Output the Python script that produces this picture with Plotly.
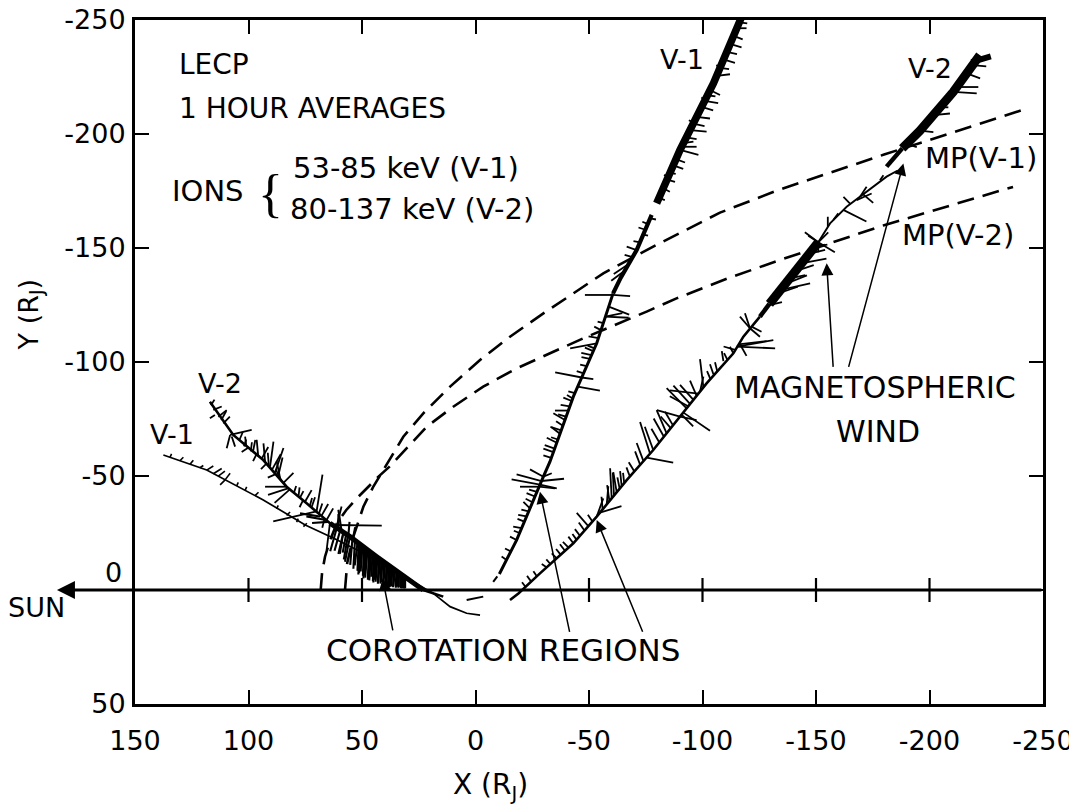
import plotly.graph_objects as go

FONT = "DejaVu Sans"

# ---------------- axes ----------------
X_TICKS = [150, 100, 50, 0, -50, -100, -150, -200, -250]
X_TICK_TEXT = ["150", "100", "50", "0", "-50", "-100", "-150", "-200", "-250"]
Y_TICKS = [-250, -200, -150, -100, -50, 0, 50]
Y_TICK_TEXT = ["-250", "-200", "-150", "-100", "-50", "", "50"]
CENTER_TICKS = [100, 50, -50, -100, -150, -200]

# ---------------- magnetopause boundaries (dashed) ----------------
MP_V1_X = [57.5, 56.5, 53.8, 49.4, 45.2, 40.6, 36.0, 31.8, 23.0, 11.2, -2.0, -15.2, -29.9,
           -43.1, -56.3, -80.0, -107.7, -132.8, -180.0, -243.4]
MP_V1_Y = [0.0, -12.0, -23.4, -36.5, -45.0, -52.6, -60.2, -67.2, -77.5, -89.2, -100.9, -111.1, -121.3,
           -130.1, -138.9, -151.5, -165.5, -175.2, -191.0, -211.3]
MP_V2_X = [68.2, 67.6, 66.3, 64.0, 61.1, 57.0, 52.0, 47.0, 43.0, 38.0, 31.8, 21.5, 9.8, -3.4,
           -18.1, -34.3, -47.5, -75.4, -88.8, -112.0, -134.0, -180.0, -236.8]
MP_V2_Y = [0.0, -7.5, -14.6, -22.0, -29.2, -35.0, -40.5, -45.5, -49.5, -54.0, -60.7, -71.6, -80.4, -89.2,
           -97.2, -104.5, -110.4, -122.1, -128.0, -137.0, -144.7, -160.0, -176.8]

# ---------------- trajectories ----------------
V1_IN_X = [137.5, 118.4, 93.5, 75.0, 62.0, 48.0, 34.7, 28.8, 18.6, 11.2, 3.9, -2.0]
V1_IN_Y = [-59.2, -52.6, -39.5, -28.5, -22.5, -15.5, -7.3, -4.4, 1.5, 7.3, 10.2, 11.0]
V2_IN_X = [117.0, 106.7, 93.5, 83.2, 74.4, 64.1, 55.3, 43.5, 31.8, 23.0, 14.2]
V2_IN_Y = [-82.6, -68.0, -57.0, -45.3, -38.0, -29.3, -23.4, -14.6, -5.9, 0.0, 2.9]
COROT_X = [64.1, 55.3, 43.5, 31.8, 23.0]
COROT_Y = [-29.3, -23.4, -14.6, -5.9, 0.0]
V1_FRAG_X = [3.9, -3.4, None, -7.8, -9.6]
V1_FRAG_Y = [4.4, 2.9, None, -3.6, -6.0]
V1_OUT_LO_X = [-10.5, -13.0, -18.1, -29.9, -32.8, -43.1, -53.4, -60.6]
V1_OUT_LO_Y = [-7.0, -11.7, -21.9, -49.7, -56.3, -84.8, -108.2, -130.1]
V1_OUT_MID_X = [-60.6, -64.0, -71.0, -77.6]
V1_OUT_MID_Y = [-130.1, -137.0, -149.1, -164.5]
V1_OUT_HI_X = [-79.8, -90.1, -104.8, -117.5]
V1_OUT_HI_Y = [-169.6, -193.0, -222.2, -252.0]
V2_OUT_X = [-15.2, -18.9, -28.4, -43.1, -53.4, -66.6, -78.3, -90.1, -101.8, -113.6, -118.0, -125.3]
V2_OUT_Y = [4.4, 1.5, -7.3, -20.5, -32.2, -48.2, -61.4, -76.0, -90.6, -103.8, -111.1, -119.9]
V2_OUT_MID_X = [-125.3, -129.5, -138.0, -146.0, -151.0]
V2_OUT_MID_Y = [-119.9, -125.5, -136.6, -147.2, -152.5]
V2_OUT_DOT_X = [-151.0, -156.2, -163.5, -169.4, -175.3, -181.1, -186.0]
V2_OUT_DOT_Y = [-152.5, -160.8, -168.1, -172.5, -176.9, -181.3, -184.0]
V2_OUT_HI_X = [-181.1, -188.0, -195.8, -210.5, -222.2]
V2_OUT_HI_Y = [-185.7, -193.7, -201.5, -218.5, -234.6]
V2_OUT_TIP_X = [-218.5, -227.0]
V2_OUT_TIP_Y = [-231.5, -234.0]

# ---------------- hourly anisotropy vectors: (x, y, dx, dy) ----------------
V1_IN_SPIKES = [
    (134.6, -58.2, -0.7, -1.5), (130.2, -56.7, -1.5, -1.5), (125.8, -55.1, -1.5, -1.8),
    (121.4, -53.6, -1.5, -1.0), (118.4, -52.6, -2.9, -1.8), (115.5, -51.0, -3.7, -2.3),
    (113.3, -49.9, -2.9, -2.2), (110.3, -48.3, -2.2, -2.9), (110.3, -48.3, 2.2, 2.2),
    (105.2, -45.7, -0.7, -1.5), (101.5, -43.7, -0.7, -1.5), (97.1, -41.4, -1.5, -1.5),
    (87.6, -35.6, -0.7, -1.5), (83.2, -32.7, -1.5, -1.5), (78.8, -29.8, -0.7, -1.5),
    (75.8, -27.8, -1.5, -1.5),
]
V2_IN_SPIKES = [
    (116.5, -81.0, -1.5, -2.5), (115.5, -79.0, -3.7, -1.5), (114.8, -76.8, 2.2, 1.5),
    (113.3, -76.0, -3.7, -2.9), (112.0, -74.5, -2.2, -4.0), (111.1, -73.1, -2.9, -2.9),
    (108.1, -68.0, -9.5, -2.2), (108.1, -68.0, 1.5, 5.8), (107.4, -67.3, -1.5, 4.4),
    (104.0, -65.8, -1.5, -3.5), (102.0, -63.0, -1.0, -3.0), (101.0, -63.3, 0.5, -4.0),
    (100.0, -62.5, 3.0, 2.0), (99.0, -60.8, -0.5, -4.0), (98.0, -60.8, -1.0, -5.0),
    (96.5, -59.5, 1.5, 3.0),
    (95.7, -58.6, 0.7, -7.3), (94.2, -57.6, -2.9, -5.1), (92.7, -56.3, 0.7, -8.0),
    (92.0, -55.5, 2.5, 2.5), (91.0, -54.2, 0.5, -6.0),
    (90.5, -54.1, -1.5, -11.0), (89.5, -53.0, -3.7, -6.6), (88.3, -51.6, -3.7, -10.7),
    (88.0, -50.8, 3.5, 1.5), (87.0, -49.6, -2.0, -8.5),
    (86.1, -49.2, 1.5, -7.3), (85.5, -47.9, 2.5, -5.0), (84.6, -47.0, -4.4, -4.4),
    (83.2, -45.3, 9.5, 0.0), (82.6, -44.6, 8.8, 2.9), (81.9, -44.0, 6.6, 5.8),
    (80.0, -42.6, -1.0, -3.0), (78.0, -41.0, -0.5, -4.0), (76.0, -39.3, 1.5, 3.0),
    (77.3, -40.5, -1.5, -2.9), (75.1, -38.7, -2.9, -5.1), (73.0, -36.8, -1.0, -3.5),
    (72.2, -36.3, -1.5, -4.4),
    (70.0, -34.5, -2.6, -16.1), (70.0, -34.5, 19.1, 4.4), (69.0, -33.4, -1.5, -4.5),
    (67.8, -32.6, -2.9, -5.1), (66.5, -31.3, 1.0, 4.0), (65.6, -30.7, -2.9, -5.1),
    (62.6, -28.5, -21.3, 0.3), (61.2, -27.8, -2.2, -8.8),
    (64.1, -29.3, 1.5, 11.7), (58.2, -25.3, 1.5, 9.5),
]
COROT_SPIKES = [
    (61.1, -27.2, 2.9, 10.2), (59.6, -26.2, 2.5, 9.0), (58.2, -25.3, 2.2, 9.5),
    (57.0, -24.4, 1.5, 8.0), (56.2, -23.9, 1.8, 10.5),
    (55.3, -23.4, 2.2, 11.0), (54.2, -22.5, 1.0, 11.5), (53.1, -21.7, 0.7, 12.4),
    (52.0, -20.8, 1.2, 10.0), (51.5, -20.4, 0.5, 12.0),
    (50.9, -20.0, 0.7, 13.2), (50.3, -19.5, 1.0, 12.0), (49.8, -19.1, 0.8, 11.0),
    (49.2, -18.7, 0.4, 12.5), (48.7, -18.3, 0.7, 13.2), (48.1, -17.8, 0.9, 11.5),
    (47.6, -17.4, 1.0, 12.0), (47.0, -17.0, 0.4, 12.5), (46.5, -16.6, 0.7, 11.0),
    (46.0, -16.2, 0.8, 12.0), (45.4, -15.8, 0.5, 10.0), (44.9, -15.4, 0.3, 11.5),
    (44.3, -15.0, 0.7, 11.7), (43.8, -14.5, 0.6, 10.0), (43.2, -14.1, 0.8, 10.5),
    (42.7, -13.7, 0.3, 11.0), (42.1, -13.2, 0.7, 9.5), (41.5, -12.8, 0.4, 10.0),
    (41.0, -12.4, 0.6, 9.0), (40.4, -12.0, 0.3, 10.0), (39.9, -11.6, 0.7, 9.5),
    (39.3, -11.2, 0.2, 9.5), (38.8, -10.8, 0.5, 9.0), (38.2, -10.4, 0.4, 9.0),
    (37.7, -10.0, 0.3, 8.8), (37.1, -9.5, 0.5, 8.0), (36.6, -9.1, 0.5, 7.5),
    (36.0, -8.7, 0.3, 7.5), (35.5, -8.3, 0.7, 6.6), (34.9, -7.8, 0.2, 6.8),
    (34.3, -7.4, 0.3, 6.0), (33.7, -7.0, 0.3, 6.0), (33.2, -6.6, 0.0, 5.4),
    (32.6, -6.2, 0.2, 5.4), (32.1, -5.8, 0.2, 5.0), (31.5, -5.5, 0.1, 4.8),
    (31.0, -5.1, 0.0, 4.4),
    (58.9, -25.0, 1.5, -10.2), (60.4, -26.3, 0.0, -7.0), (56.0, -23.9, -0.5, -6.0),
    (54.0, -22.5, -1.0, -5.0), (66.5, -30.8, 8.0, -1.5), (65.0, -29.9, 7.0, 0.5),
    (68.5, -32.2, 8.8, -1.4),
]
V1_OUT_SPIKES = [
    (-13.7, -13.2, 2.2, -1.5), (-15.9, -16.7, 2.9, -1.5), (-18.1, -21.9, 2.9, -1.5),
    (-19.4, -25.0, 2.5, -1.0), (-20.3, -27.1, 3.7, -0.7), (-21.5, -30.0, 3.0, -1.2),
    (-22.5, -32.3, 3.7, -0.7), (-23.4, -34.5, 3.2, -0.8), (-24.0, -35.8, 2.9, -2.9),
    (-25.1, -38.5, 3.0, -1.5), (-26.2, -41.0, 3.7, -1.5), (-27.1, -43.0, 3.5, -1.0),
    (-28.4, -46.2, 12.5, -2.3), (-28.4, -46.2, -7.4, 1.6), (-29.1, -47.8, 11.0, -2.9),
    (-29.1, -47.8, -9.9, -1.0), (-29.9, -49.7, 5.9, -3.2), (-29.9, -49.7, -3.7, -1.5),
    (-28.0, -45.3, 8.4, 0.0), (-28.0, -45.3, -7.0, 0.7),
    (-33.4, -58.0, 3.5, -1.0), (-34.3, -60.5, 4.4, -1.5), (-34.9, -62.0, 4.4, -1.5),
    (-35.8, -64.6, 4.4, -2.2), (-36.3, -66.0, 3.0, -1.0), (-37.2, -68.5, 3.7, -2.9),
    (-37.8, -70.0, 4.8, -1.5), (-38.5, -72.0, 3.0, -2.0), (-39.4, -74.6, 5.1, -2.9),
    (-39.9, -76.0, 3.5, -1.0), (-40.9, -78.7, 5.9, 0.0), (-41.5, -80.5, 4.0, -0.7),
    (-42.4, -82.9, 3.7, -1.5), (-42.8, -84.0, 2.5, -1.5),
    (-43.8, -86.4, 2.9, -0.7), (-45.0, -89.2, -9.8, 1.8), (-46.8, -93.2, 11.7, -2.2),
    (-46.8, -93.2, -5.1, 0.7), (-47.6, -95.0, 3.0, -1.0),
    (-49.0, -98.2, 2.9, -0.7), (-50.4, -101.4, 3.7, -0.7), (-51.1, -103.0, 4.5, -1.0),
    (-51.9, -104.8, 3.7, -1.5), (-52.4, -106.0, 3.0, -1.2), (-53.4, -108.2, 11.7, 2.2),
    (-54.2, -110.5, 4.4, -0.7), (-55.3, -114.0, 3.0, -1.5), (-56.3, -117.0, 2.5, -0.7),
    (-57.2, -119.9, -10.3, 0.5), (-57.2, -119.9, -7.5, -1.5), (-58.7, -124.3, -9.0, 3.5),
    (-60.4, -129.4, 12.2, 0.0), (-60.4, -129.4, -7.7, 0.5),
    (-65.7, -140.0, 5.9, 4.4), (-67.5, -143.0, 6.6, 4.4), (-69.2, -146.0, 3.5, -1.0),
    (-71.0, -149.1, 4.4, -1.5), (-72.5, -152.5, 2.9, -0.5), (-74.0, -155.9, -2.0, 0.5),
    (-74.8, -158.0, 3.0, -1.0), (-76.0, -160.5, 2.5, -1.0), (-77.0, -163.0, -2.5, 0.5),
    (-80.9, -172.0, -2.5, 1.0), (-82.7, -176.2, -2.9, 1.5), (-84.4, -180.0, -3.5, 1.0),
    (-85.0, -181.5, 2.0, -0.5), (-85.7, -183.0, -2.5, 0.5), (-87.1, -186.2, -4.4, 1.5),
    (-88.3, -189.0, -4.0, 1.5), (-90.1, -193.0, -8.1, 2.2), (-90.8, -194.4, -6.6, 0.0),
    (-91.6, -196.0, -4.4, -0.7), (-92.9, -198.5, -4.5, 0.7), (-94.5, -201.7, -7.3, 0.7),
    (-95.9, -204.5, -5.0, 1.0), (-96.0, -205.0, 2.0, -1.0), (-97.4, -207.5, -5.9, 0.7),
    (-99.6, -211.9, -5.1, 1.5), (-100.9, -214.5, -6.0, 1.0), (-101.0, -215.0, 1.5, -1.0),
    (-102.2, -217.0, -3.5, 0.5), (-103.3, -219.3, -4.4, 2.2), (-106.2, -225.5, -5.9, -0.7),
    (-107.7, -229.0, -4.0, 0.5), (-108.0, -230.0, 2.0, 0.0), (-109.2, -232.7, -5.1, 1.5),
    (-110.7, -236.0, -4.5, 1.0), (-112.1, -239.5, -5.1, 1.5), (-113.7, -243.0, -4.0, 1.5),
    (-115.0, -246.4, -4.4, 0.0), (-116.2, -249.0, -3.5, 0.5),
]
V2_OUT_SPIKES = [
    (-22.0, -1.4, 1.5, -2.0), (-24.5, -3.7, 1.8, -2.5), (-27.0, -6.0, 1.5, -2.2),
    (-31.4, -9.9, 2.2, -1.5), (-33.0, -11.4, 1.8, -2.0), (-35.8, -13.9, 2.2, -2.2),
    (-37.5, -15.5, 2.0, -2.5), (-39.4, -17.2, 2.2, -2.9), (-41.0, -18.6, 2.5, -2.5),
    (-43.1, -20.5, 2.2, -2.9), (-44.5, -22.1, 1.8, -2.5), (-46.0, -23.8, 2.2, -2.9),
    (-48.0, -26.1, 2.5, -3.5), (-49.7, -28.0, 5.1, -5.8), (-51.5, -30.0, 2.0, -3.0),
    (-53.4, -32.2, -2.9, -8.0), (-54.8, -33.9, -9.5, -2.9), (-56.0, -35.4, 0.5, -5.5),
    (-57.8, -37.5, -0.7, -8.0), (-59.0, -39.0, 1.0, -7.0), (-60.0, -40.2, 0.7, -13.2),
    (-61.0, -41.4, 0.5, -10.0), (-62.2, -42.9, 1.5, -8.8), (-63.5, -44.4, 1.0, -5.0),
    (-64.4, -45.5, 0.7, -6.6), (-65.5, -46.9, 0.5, -4.5), (-68.0, -49.8, 1.5, -4.0),
    (-70.0, -52.0, 2.5, -4.0), (-72.5, -55.0, 2.2, -5.8), (-74.0, -56.5, 3.0, -8.0),
    (-76.9, -59.8, 4.4, -13.9), (-78.3, -61.4, 3.7, -10.2), (-75.4, -58.1, -11.7, 2.2),
    (-81.0, -64.7, 3.5, -6.0), (-83.0, -67.2, 4.5, -8.0), (-84.2, -68.7, 4.4, -10.2),
    (-86.0, -71.0, 4.4, -5.1), (-87.0, -72.2, 3.5, -6.0),
    (-90.1, -76.0, 10.2, -2.9), (-90.1, -76.0, -7.3, 1.5),
    (-91.6, -77.8, -11.7, 8.0), (-90.8, -76.9, -5.1, 5.1),
    (-93.0, -79.7, 8.8, -8.8), (-94.5, -81.6, 7.3, -8.0), (-96.0, -83.4, 5.9, -6.6),
    (-97.4, -85.2, 2.9, -6.6), (-98.9, -87.0, -1.5, -6.6), (-93.7, -80.6, 8.1, -4.4),
    (-98.2, -86.1, 12.5, -1.5), (-100.4, -88.9, 1.5, -12.4), (-103.5, -92.5, 1.5, -3.5),
    (-104.8, -94.6, 1.5, -4.4), (-106.5, -95.9, 1.0, -4.0), (-109.2, -100.4, 0.7, -4.4),
    (-111.0, -100.9, 1.5, -3.0), (-113.6, -103.8, 1.5, -2.9),
    (-115.1, -106.7, -16.1, -2.9), (-115.1, -106.7, -16.9, 0.7), (-115.8, -107.7, -12.5, -1.5),
    (-114.4, -105.3, 5.1, -1.5), (-116.5, -107.8, -2.9, 5.1),
    (-120.9, -114.8, 4.4, -5.1), (-120.9, -114.8, -4.4, 3.7), (-120.9, -114.8, 2.2, -6.6),
    (-121.6, -115.5, -4.4, 2.2),
    (-129.0, -124.8, -6.0, -1.5), (-133.0, -130.0, -9.0, -3.0), (-134.1, -131.5, -13.3, -3.0),
    (-136.0, -134.0, -10.0, -4.0), (-138.0, -136.6, -7.3, -1.5), (-140.0, -139.5, -9.0, -3.0),
    (-142.9, -143.1, -11.7, -2.2), (-146.0, -147.2, -8.0, -2.0), (-149.0, -150.5, -6.0, -1.0),
    (-151.0, -152.5, 4.4, -2.9), (-151.0, -152.5, -7.3, 4.4), (-151.0, -152.5, -4.4, -4.4),
    (-151.0, -152.5, 0.0, 4.4), (-151.0, -152.5, 5.9, -4.4), (-151.0, -152.5, 2.9, 4.4),
    (-155.2, -159.3, 0.0, -4.4), (-157.6, -162.3, -2.2, -2.9), (-162.0, -166.7, -10.2, 5.1),
    (-165.0, -169.5, 2.9, -2.9), (-167.9, -171.0, -6.6, -2.9), (-169.4, -172.5, -2.9, -4.4),
    (-170.8, -173.5, -4.4, 3.7), (-178.2, -179.7, -1.5, -2.2),
    (-190.0, -195.7, -4.4, 1.5), (-195.8, -201.5, -5.9, 0.7), (-201.7, -208.3, -7.3, -0.7),
    (-204.6, -211.7, -3.7, 0.0), (-210.5, -218.5, -10.3, 0.7), (-212.0, -220.6, -9.5, 0.0),
    (-216.4, -226.6, -5.9, 2.2), (-219.0, -230.2, -6.0, 0.5), (-221.0, -233.0, -5.0, -0.5),
]

# ---------------- annotation arrows: (tail_x, tail_y, head_x, head_y) ----------------
POINTER_ARROWS = [
    (36.3, 18.4, 40.9, -5.1),
    (-41.6, 19.0, -28.4, -43.1),
    (-73.9, 19.0, -53.4, -30.7),
    (-157.6, -97.2, -154.7, -143.3),
    (-164.2, -97.2, -188.5, -187.1),
]

# ---------------- text labels: (text, x, y, size, anchor) ----------------
LABELS = [
    ("LECP", 131.5, -230.3, 28, "left"),
    ("1 HOUR AVERAGES", 131.5, -211.4, 28, "left"),
    ("IONS", 134.6, -175.0, 29, "left"),
    ("53-85 keV (V-1)", 81.3, -185.1, 29, "left"),
    ("80-137 keV (V-2)", 82.6, -167.1, 29, "left"),
    ("V-1", -90.8, -232.5, 27, "center"),
    ("V-2", -200.2, -228.9, 27, "center"),
    ("MP(V-1)", -197.1, -189.5, 29, "left"),
    ("MP(V-2)", -187.0, -155.7, 29, "left"),
    ("MAGNETOSPHERIC", -176.2, -88.6, 30, "center"),
    ("WIND", -177.1, -69.7, 30, "center"),
    ("V-2", 112.6, -90.4, 27, "center"),
    ("V-1", 133.7, -68.0, 27, "center"),
    ("COROTATION REGIONS", -12.3, 26.3, 31, "center"),
]

fig = go.Figure()


def add_line(xs, ys, width, dash=None):
    fig.add_trace(go.Scatter(
        x=xs, y=ys, mode="lines", hoverinfo="skip", showlegend=False,
        line=dict(color="black", width=width, dash=dash),
    ))


def add_spikes(spikes, width):
    xs, ys = [], []
    for x, y, dx, dy in spikes:
        xs += [x, x + dx, None]
        ys += [y, y + dy, None]
    add_line(xs, ys, width)


# magnetopause
DASH = "17px,9px"
add_line(MP_V1_X, MP_V1_Y, 2.6, DASH)
add_line(MP_V2_X, MP_V2_Y, 2.6, DASH)

# trajectories
add_line(V1_IN_X, V1_IN_Y, 1.7)
add_line(V2_IN_X, V2_IN_Y, 2.6)
add_line(COROT_X, COROT_Y, 5.0)
add_line(V1_FRAG_X, V1_FRAG_Y, 2.0)
add_line(V1_OUT_LO_X, V1_OUT_LO_Y, 3.0)
add_line(V1_OUT_MID_X, V1_OUT_MID_Y, 4.2)
add_line(V1_OUT_HI_X, V1_OUT_HI_Y, 7.5)
add_line(V2_OUT_X, V2_OUT_Y, 2.6)
add_line(V2_OUT_MID_X[:2], V2_OUT_MID_Y[:2], 4.5)
add_line(V2_OUT_MID_X[1:], V2_OUT_MID_Y[1:], 9.0)
add_line(V2_OUT_DOT_X, V2_OUT_DOT_Y, 1.9)
add_line(V2_OUT_HI_X[:2], V2_OUT_HI_Y[:2], 4.5)
add_line(V2_OUT_HI_X[1:], V2_OUT_HI_Y[1:], 9.0)
add_line(V2_OUT_TIP_X, V2_OUT_TIP_Y, 6.0)

# anisotropy vectors
add_spikes(V1_IN_SPIKES, 1.6)
add_spikes(V2_IN_SPIKES, 1.8)
add_spikes(COROT_SPIKES, 2.1)
add_spikes(V1_OUT_SPIKES, 1.8)
add_spikes(V2_OUT_SPIKES, 1.8)

annotations = []
for text, x, y, size, anchor in LABELS:
    annotations.append(dict(text=text, x=x, y=y, xref="x", yref="y", showarrow=False,
                            xanchor=anchor, yanchor="middle",
                            font=dict(family=FONT, size=size, color="black")))

for tx, ty, hx, hy in POINTER_ARROWS:
    annotations.append(dict(text="", x=hx, y=hy, ax=tx, ay=ty, xref="x", yref="y",
                            axref="x", ayref="y", showarrow=True, arrowhead=2,
                            arrowsize=1.6, arrowwidth=1.5, arrowcolor="black"))

# Sun-direction axis with arrow (tail offset in pixels to the right frame edge)
annotations.append(dict(text="", x=-0.086, y=0, xref="paper", yref="y", ax=986, ay=0,
                        axref="pixel", ayref="pixel", showarrow=True, arrowhead=2,
                        arrowsize=1.2, arrowwidth=3, arrowcolor="black"))
annotations.append(dict(text="SUN", x=-0.108, y=0.1418, xref="paper", yref="paper",
                        xanchor="center", yanchor="middle", showarrow=False,
                        font=dict(family=FONT, size=27, color="black")))
annotations.append(dict(text="0", x=-0.012, y=-7.5, xref="paper", yref="y", xanchor="right",
                        yanchor="middle", showarrow=False,
                        font=dict(family=FONT, size=27, color="black")))
annotations.append(dict(text="{", x=90.5, y=-173.7, xref="x", yref="y", showarrow=False,
                        xanchor="center", yanchor="middle",
                        font=dict(family="Liberation Serif", size=52, color="black")))
# axis titles
annotations.append(dict(text="Y (R<sub>J</sub>)", x=-0.115, y=0.569, xref="paper", yref="paper",
                        xanchor="center", yanchor="middle", textangle=-90, showarrow=False,
                        font=dict(family=FONT, size=27, color="black")))
annotations.append(dict(text="X (R<sub>J</sub>)", x=0.391, y=-0.121, xref="paper", yref="paper",
                        xanchor="center", yanchor="middle", showarrow=False,
                        font=dict(family=FONT, size=28, color="black")))

shapes = []
for t in CENTER_TICKS:
    shapes.append(dict(type="line", xref="x", yref="y", ysizemode="pixel", yanchor=0,
                       x0=t, x1=t, y0=-12, y1=12, line=dict(color="black", width=2.2)))

axis_common = dict(showline=True, linewidth=3, linecolor="black", mirror="ticks",
                   ticks="inside", ticklen=14, tickwidth=2.2, tickcolor="black",
                   showgrid=False, zeroline=False, automargin=False,
                   ticklabeloverflow="allow",
                   tickfont=dict(family=FONT, size=27, color="black"))
fig.update_xaxes(range=[150, -250], tickmode="array", tickvals=X_TICKS, ticktext=X_TICK_TEXT,
                 ticklabelstandoff=11, **axis_common)
fig.update_yaxes(range=[50, -250], tickmode="array", tickvals=Y_TICKS, ticktext=Y_TICK_TEXT,
                 ticklabelstandoff=1, **axis_common)

# the page body adds an 8 px offset, so the figure is 8 px smaller and shifted
fig.update_layout(width=1069, height=804, margin=dict(l=127, r=34, t=12, b=108),
                  paper_bgcolor="white", plot_bgcolor="white", showlegend=False,
                  annotations=annotations, shapes=shapes)

fig.write_html("out.html")
